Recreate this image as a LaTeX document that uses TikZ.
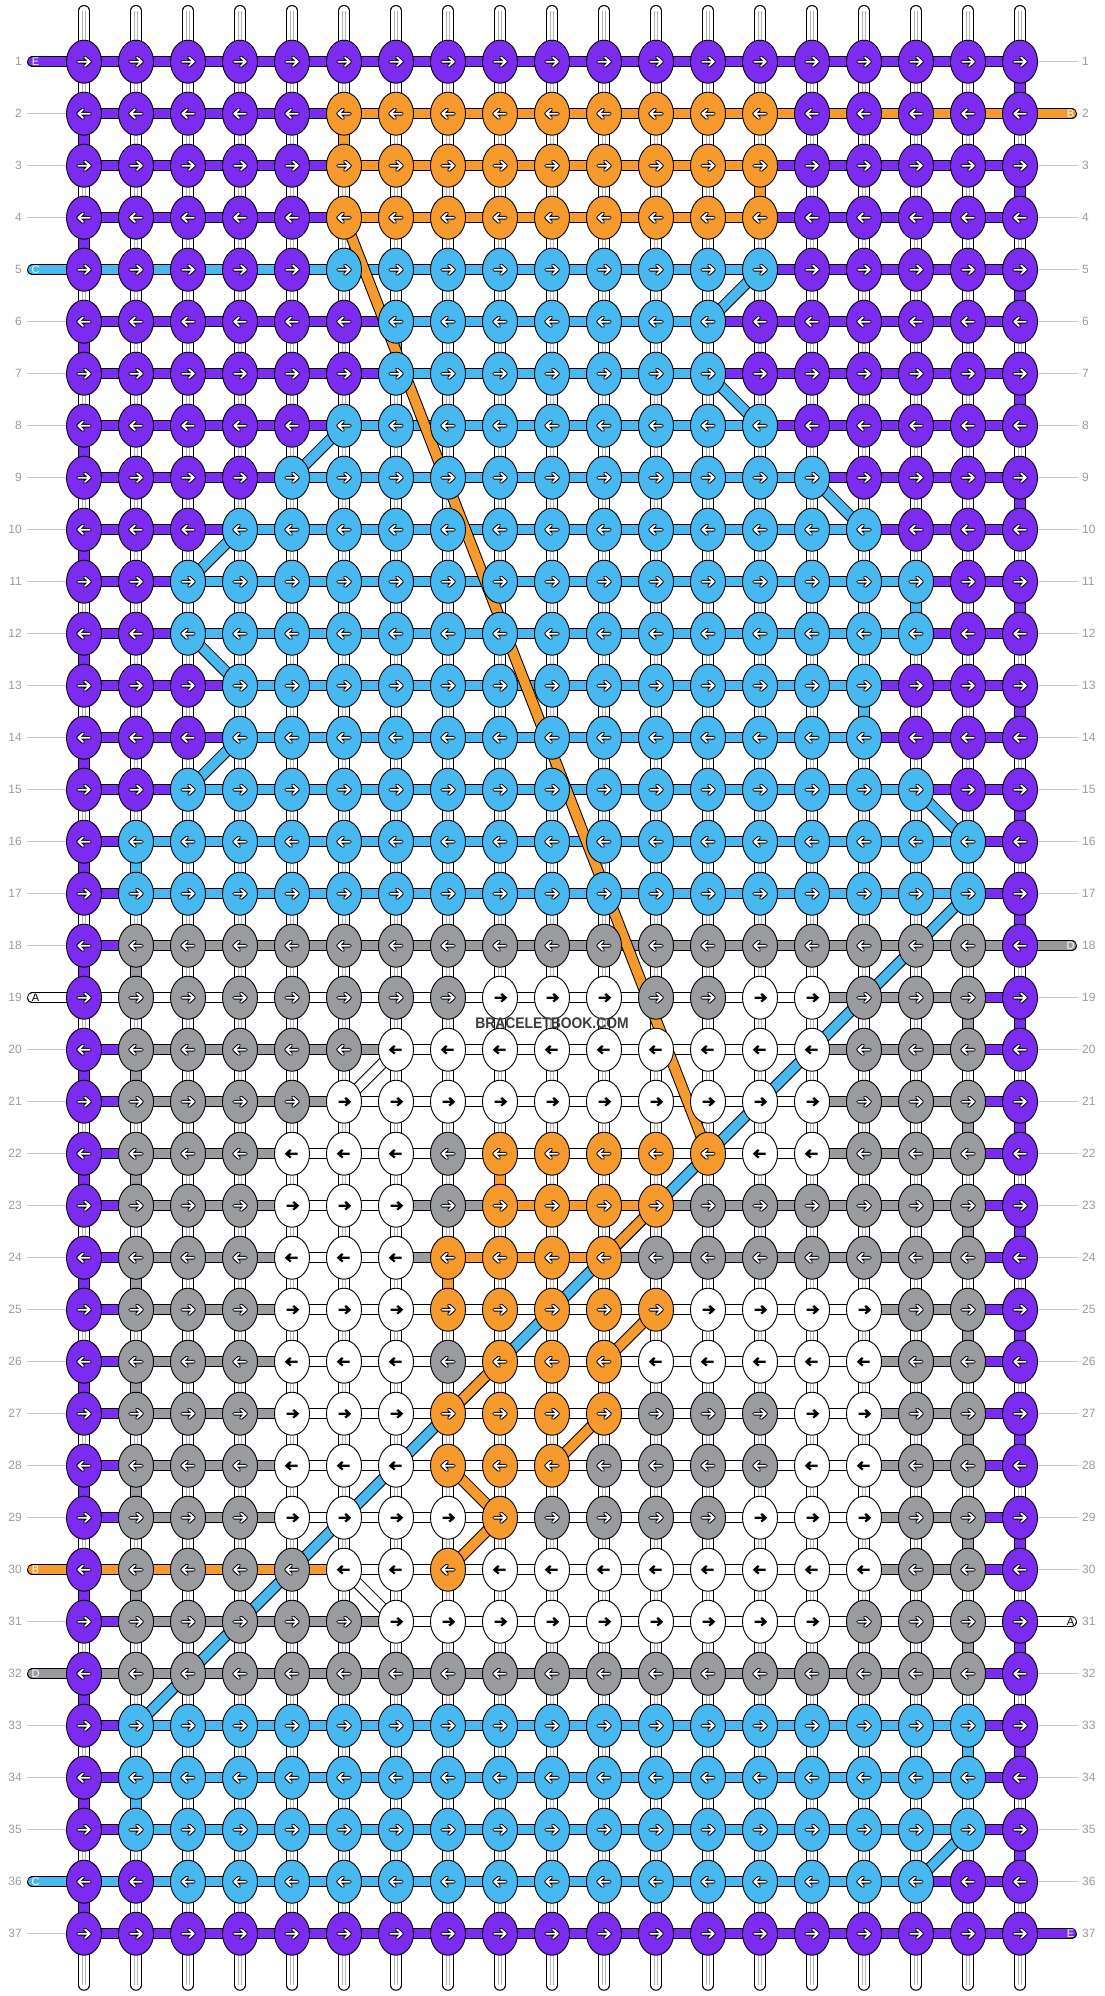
\documentclass[tikz,border=0pt]{standalone}
\usepackage{fontspec}
\setmainfont{Liberation Sans}
\usepackage{xstring}
\usetikzlibrary{shapes.geometric}
\pgfdeclarelayer{bgl}
\pgfdeclarelayer{segs}
\pgfdeclarelayer{diags}
\pgfsetlayers{bgl,segs,diags,main}
\definecolor{cP}{HTML}{7B2CF0}
\definecolor{cO}{HTML}{F79A2E}
\definecolor{cB}{HTML}{47B8F0}
\definecolor{cG}{HTML}{999B9E}
\definecolor{cW}{HTML}{FFFFFF}
\definecolor{numgray}{HTML}{9C9C9C}
\definecolor{linegray}{HTML}{C4C4C4}
\definecolor{strandgray}{HTML}{B4B4B4}
\definecolor{wmgray}{HTML}{3C3C3C}
\tikzset{
  knot/.style={ellipse, draw=black, line width=0.9pt, minimum width=35pt, minimum height=43pt, inner sep=0pt},
  thrOut/.style={draw=black, line width=11.5pt},
  thrIn/.style={line width=9.5pt},
  strand/.style={draw=strandgray, line width=0.7pt},
  arrOut/.style={draw=black, line width=3.8pt, line cap=round, line join=round},
  arrIn/.style={draw=white, line width=1.8pt, line cap=round, line join=round},
  arrBlk/.style={draw=black, line width=2.4pt, line join=miter},
  numlab/.style={text=numgray, font=\fontsize{12}{14}\selectfont, inner sep=0pt},
  numline/.style={draw=linegray, line width=1pt},
  taillab/.style={font=\fontsize{11}{12}\selectfont, inner sep=0pt},
}
\begin{document}
\begin{tikzpicture}[x=1pt,y=-1pt]
\begin{pgfonlayer}{bgl}
\fill[white] (0,0) rectangle (1104,1996);
\end{pgfonlayer}
\useasboundingbox (0,0) rectangle (1104,1996);

% ---------------- knots ----------------
\foreach \ri/\kstr in {
1/PPPPPPPPPPPPPPPPPPP, 2/PPPPPOOOOOOOOOPPPPP, 3/PPPPPOOOOOOOOOPPPPP, 4/PPPPPOOOOOOOOOPPPPP,
5/PPPPPBBBBBBBBBPPPPP, 6/PPPPPPBBBBBBBPPPPPP, 7/PPPPPPBBBBBBBPPPPPP, 8/PPPPPBBBBBBBBBPPPPP,
9/PPPPBBBBBBBBBBBPPPP, 10/PPPBBBBBBBBBBBBBPPP, 11/PPBBBBBBBBBBBBBBBPP, 12/PPBBBBBBBBBBBBBBBPP,
13/PPPBBBBBBBBBBBBBPPP, 14/PPPBBBBBBBBBBBBBPPP, 15/PPBBBBBBBBBBBBBBBPP, 16/PBBBBBBBBBBBBBBBBBP,
17/PBBBBBBBBBBBBBBBBBP, 18/PGGGGGGGGGGGGGGGGGP, 19/PGGGGGGGWWWGGWWGGGP, 20/PGGGGGWWWWWWWWWGGGP,
21/PGGGGWWWWWWWWWWGGGP, 22/PGGGWWWGOOOOOWWGGGP, 23/PGGGWWWGOOOOGGGGGGP, 24/PGGGWWWOOOOGGGGGGGP,
25/PGGGWWWOOOOOWWWWGGP, 26/PGGGWWWGOOOWWWWWGGP, 27/PGGGWWWOOOOGGGWWGGP, 28/PGGGWWWOOOGGGGWWGGP,
29/PGGGWWWWOGGGGWWWGGP, 30/PGGGGWWOWWWWWWWWGGP, 31/PGGGGGWWWWWWWWWGGGP, 32/PGGGGGGGGGGGGGGGGGP,
33/PBBBBBBBBBBBBBBBBBP, 34/PBBBBBBBBBBBBBBBBBP, 35/PBBBBBBBBBBBBBBBBBP, 36/PPBBBBBBBBBBBBBBBPP,
37/PPPPPPPPPPPPPPPPPPP}{
  \pgfmathsetmacro\ky{61.7+52*(\ri-1)}
  \ifodd\ri\relax\def\kdir{1}\else\def\kdir{-1}\fi
  \foreach \ci in {1,...,19}{
    \StrChar{\kstr}{\ci}[\kL]
    \pgfmathsetmacro\kx{84+52*(\ci-1)}
    \edef\fc{c\kL}
    \node[knot, fill=\fc] (k-\ri-\ci) at (\kx,\ky) {};
    \begin{scope}[shift={(\kx,\ky)}, xscale=\kdir]
      \if W\kL
        \draw[arrBlk] (-5.5,0) -- (5,0) (1.3,-3.9) -- (5.5,0) -- (1.3,3.9);
      \else
        \draw[arrOut] (-5.8,0) -- (5.8,0) (1,-4.3) -- (5.8,0) -- (1,4.3);
        \draw[arrIn] (-5.8,0) -- (5.8,0) (1,-4.3) -- (5.8,0) -- (1,4.3);
      \fi
    \end{scope}
  }
}

% ---------------- threads (segments) ----------------
\begin{pgfonlayer}{segs}
% white vertical strands between knots
\foreach \ri in {1,...,36}{
  \pgfmathtruncatemacro\rn{\ri+1}
  \foreach \ci in {1,...,19}{
    \draw[thrOut] (k-\ri-\ci.center) -- (k-\rn-\ci.center);
    \draw[thrIn, draw=white] (k-\ri-\ci.center) -- (k-\rn-\ci.center);
    \draw[strand] ([xshift=-1.8pt]k-\ri-\ci.center) -- ([xshift=-1.8pt]k-\rn-\ci.center);
    \draw[strand] ([xshift=1.8pt]k-\ri-\ci.center) -- ([xshift=1.8pt]k-\rn-\ci.center);
  }
}
% top and bottom strand ends
\foreach \ci in {1,...,19}{
  \pgfmathsetmacro\kx{84+52*(\ci-1)}
  \coordinate (t-\ci) at (\kx,10.75);
  \coordinate (b-\ci) at (\kx,1985);
  \draw[thrOut, line cap=round] (t-\ci) -- (k-1-\ci.center);
  \draw[thrIn, draw=white, line cap=round] (t-\ci) -- (k-1-\ci.center);
  \draw[strand] ([xshift=-1.8pt]t-\ci) -- ([xshift=-1.8pt]k-1-\ci.center);
  \draw[strand] ([xshift=1.8pt]t-\ci) -- ([xshift=1.8pt]k-1-\ci.center);
  \draw[thrOut, line cap=round] (k-37-\ci.center) -- (b-\ci);
  \draw[thrIn, draw=white, line cap=round] (k-37-\ci.center) -- (b-\ci);
  \draw[strand] ([xshift=-1.8pt]k-37-\ci.center) -- ([xshift=-1.8pt]b-\ci);
  \draw[strand] ([xshift=1.8pt]k-37-\ci.center) -- ([xshift=1.8pt]b-\ci);
}
% purple zigzag verticals at the edges
\foreach \ri in {1,...,36}{
  \pgfmathtruncatemacro\rn{\ri+1}
  \ifodd\ri\relax\def\ci{19}\else\def\ci{1}\fi
  \draw[thrOut] (k-\ri-\ci.center) -- (k-\rn-\ci.center);
  \draw[thrIn, draw=cP] (k-\ri-\ci.center) -- (k-\rn-\ci.center);
}
% other coloured verticals
\foreach \ri/\ci/\cl in {2/6/O, 3/14/O, 22/9/O, 24/8/O,
  6/7/B, 11/17/B, 13/16/B, 16/2/B, 33/18/B, 34/2/B,
  18/2/G, 19/18/G, 20/2/G, 21/18/G, 22/2/G, 23/18/G, 24/2/G, 25/18/G,
  26/2/G, 27/18/G, 28/2/G, 29/18/G, 30/2/G, 31/18/G}{
  \pgfmathtruncatemacro\rn{\ri+1}
  \edef\fc{c\cl}
  \draw[thrOut] (k-\ri-\ci.center) -- (k-\rn-\ci.center);
  \draw[thrIn, draw=\fc] (k-\ri-\ci.center) -- (k-\rn-\ci.center);
}
% horizontal segments
\foreach \ri/\kstr in {
1/PPPPPPPPPPPPPPPPPP, 2/PPPPPOOOOOOOOOOOOO, 3/PPPPPOOOOOOOOPPPPP, 4/PPPPPOOOOOOOOPPPPP,
5/BBBBBBBBBBBBBPPPPP, 6/PPPPPPBBBBBBPPPPPP, 7/PPPPPPBBBBBBPPPPPP, 8/PPPPPBBBBBBBBPPPPP,
9/PPPPBBBBBBBBBBPPPP, 10/PPPBBBBBBBBBBBBPPP, 11/PPBBBBBBBBBBBBBBPP, 12/PPBBBBBBBBBBBBBBPP,
13/PPPBBBBBBBBBBBBPPP, 14/PPPBBBBBBBBBBBBPPP, 15/PPBBBBBBBBBBBBBBPP, 16/PBBBBBBBBBBBBBBBBP,
17/PBBBBBBBBBBBBBBBBP, 18/PGGGGGGGGGGGGGGGGG, 19/WWWWWWWWWWWWWWGGGP, 20/PGGGGGWWWWWWWWGGGP,
21/PGGGGWWWWWWWWWGGGP, 22/PGGGWWWWWWWWWWGGGP, 23/PGGGWWGGOOOGGGGGGP, 24/PGGGWWGOOOGGGGGGGP,
25/PGGGWWWWWWWWWWWGGP, 26/PGGGWWWWWWWWWWWGGP, 27/PGGGWWWWWWWWWWWGGP, 28/PGGGWWWWWWWWWWWGGP,
29/PGGGWWWWWWWWWWWGGP, 30/OOOOOWWWWWWWWWWGGP, 31/PGGGGGWWWWWWWWWWWW, 32/GGGGGGGGGGGGGGGGGP,
33/PBBBBBBBBBBBBBBBBP, 34/PBBBBBBBBBBBBBBBBP, 35/PBBBBBBBBBBBBBBBBP, 36/BBBBBBBBBBBBBBBBPP,
37/PPPPPPPPPPPPPPPPPP}{
  \foreach \ci in {1,...,18}{
    \pgfmathtruncatemacro\cn{\ci+1}
    \StrChar{\kstr}{\ci}[\kL]
    \edef\fc{c\kL}
    \draw[thrOut] (k-\ri-\ci.center) -- (k-\ri-\cn.center);
    \draw[thrIn, draw=\fc] (k-\ri-\ci.center) -- (k-\ri-\cn.center);
  }
}
% thread tails with letters
\foreach \ri/\cl/\tl/\tc in {1/P/E/white, 5/B/C/white, 19/W/A/black, 30/O/B/white, 32/G/D/white, 36/B/C/white}{
  \pgfmathsetmacro\ky{61.7+52*(\ri-1)}
  \edef\fc{c\cl}
  \coordinate (tl-\ri) at (32.75,\ky);
  \draw[thrOut, line cap=round] (tl-\ri) -- (k-\ri-1.center);
  \draw[thrIn, draw=\fc, line cap=round] (tl-\ri) -- (k-\ri-1.center);
  \node[taillab, text=\tc] (tll-\ri) at (35.5,\ky) {\tl};
}
\foreach \ri/\cl/\tl/\tc in {2/O/B/white, 18/G/D/white, 31/W/A/black, 37/P/E/white}{
  \pgfmathsetmacro\ky{61.7+52*(\ri-1)}
  \edef\fc{c\cl}
  \coordinate (tr-\ri) at (1071.25,\ky);
  \draw[thrOut, line cap=round] (k-\ri-19.center) -- (tr-\ri);
  \draw[thrIn, draw=\fc, line cap=round] (k-\ri-19.center) -- (tr-\ri);
  \node[taillab, text=\tc] (trl-\ri) at (1070.5,\ky) {\tl};
}
\end{pgfonlayer}

% ---------------- diagonal threads ----------------
\begin{pgfonlayer}{diags}
\foreach \a/\b/\cl in {5-14/6-13/B, 7-13/8-14/B, 8-6/9-5/B, 9-15/10-16/B, 10-4/11-3/B,
  12-3/13-4/B, 14-4/15-3/B, 15-17/16-18/B, 17-18/33-2/B, 35-18/36-17/B,
  20-7/21-6/W, 30-6/31-7/W,
  4-6/22-13/O, 23-12/24-11/O, 25-12/26-11/O, 26-9/27-8/O, 27-11/28-10/O, 28-8/29-9/O, 29-9/30-8/O}{
  \edef\fc{c\cl}
  \draw[thrOut] (k-\a.center) -- (k-\b.center);
  \draw[thrIn, draw=\fc] (k-\a.center) -- (k-\b.center);
}
\end{pgfonlayer}

% ---------------- row numbers ----------------
\foreach \ri in {1,...,37}{
  \pgfmathsetmacro\ky{61.7+52*(\ri-1)}
  \node[numlab, anchor=east] (nl-\ri) at (22,\ky) {\ri};
  \node[numlab, anchor=west] (nr-\ri) at (1082,\ky) {\ri};
  \IfSubStr{,1,5,19,30,32,36,}{,\ri,}{}{\draw[numline] ([xshift=5pt]nl-\ri.east) -- (k-\ri-1.west);}
  \IfSubStr{,2,18,31,37,}{,\ri,}{}{\draw[numline] (k-\ri-19.east) -- ([xshift=-4pt]nr-\ri.west);}
}

% watermark
\node[text=wmgray, font=\fontsize{15.4}{16}\selectfont\bfseries, inner sep=0pt] (wm) at (552,1023.5) {\scalebox{0.9}[1]{BRACELETBOOK.COM}};
\end{tikzpicture}
\end{document}
